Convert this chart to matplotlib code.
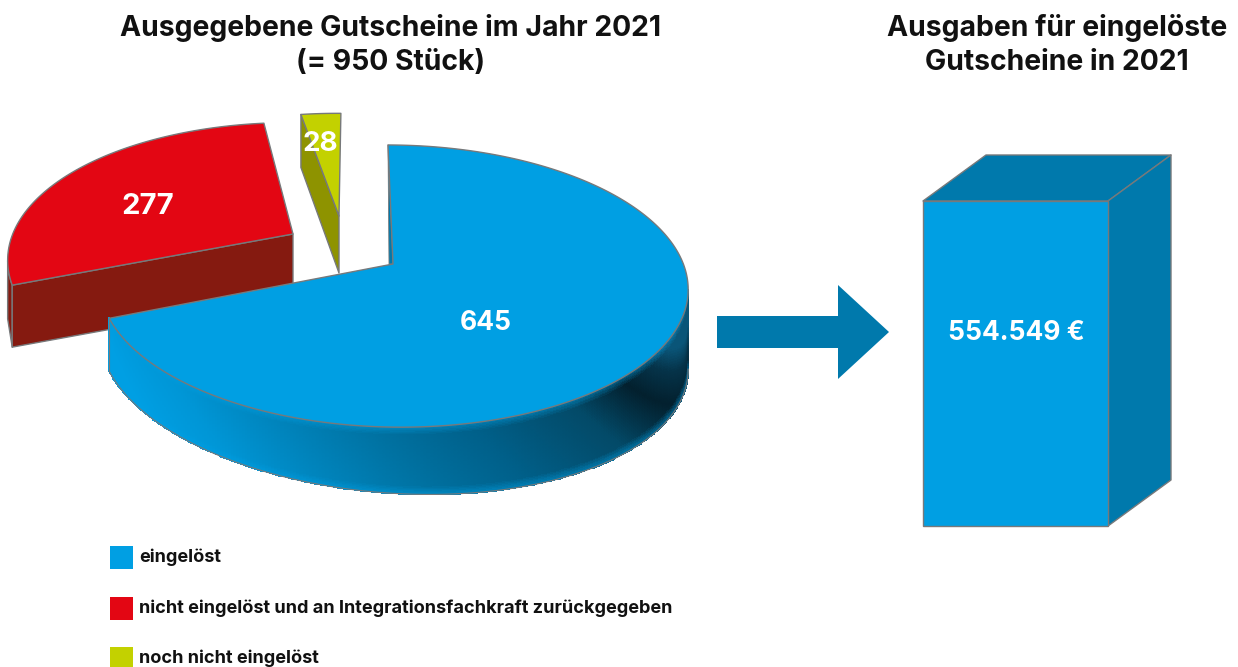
import numpy as np
import matplotlib
matplotlib.use('Agg')
import matplotlib.pyplot as plt
from matplotlib.colors import to_rgb

plt.rcParams['font.family'] = ['Inter', 'DejaVu Sans']

# data
slice_names = ['eingelöst', 'nicht eingelöst und an Integrationsfachkraft zurückgegeben', 'noch nicht eingelöst']
slice_values = [645, 277, 28]
title_left = 'Ausgegebene Gutscheine im Jahr 2021\n(= 950 Stück)'
title_right = 'Ausgaben für eingelöste\nGutscheine in 2021'
spend_value = 554549
spend_label = '554.549 €'

BLUE, BLUE_D = '#009FE3', '#0079AC'
RED, RED_D = '#E30613', '#851A10'
OLIVE, OLIVE_D = '#C3D100', '#8E9300'
EDGE = '#77797B'

fig = plt.figure(figsize=(12.38, 6.67), dpi=100)
ax = fig.add_axes([0, 0, 1, 1])
ax.set_xlim(0, 1238)
ax.set_ylim(667, 0)
ax.axis('off')

# perspective of the pie, angles in degrees
K, M, RX, RY, TILT = 0.156, -0.02, 290.5, 137.6, 0.01


def rim(theta, tip, scale=1.0, k=K):
    t = np.radians(theta)
    w = 1 + k * np.sin(t) + M * np.cos(t)
    dx = RX * np.cos(t) / w * scale
    dy = -RY * np.sin(t) / w * scale
    return tip[0] + dx, tip[1] + dy + TILT * dx


def face(xs, ys, color, z, lw=1.0):
    ax.fill(xs, ys, facecolor=color, edgecolor=EDGE, linewidth=lw, joinstyle='round', zorder=z)


# slice angles follow the values, clockwise from 12 o'clock
sweeps = np.array(slice_values) / sum(slice_values) * 360
blue_a0 = 90.0
blue_a1 = blue_a0 - sweeps[0] - 2.2
red_a0 = 90 - sweeps[0] - 3.5
red_a1 = red_a0 - sweeps[1]
olive_a0 = 90 + sweeps[2] - 0.5
olive_a1 = olive_a0 - sweeps[2]

# red slice, pulled out to the upper left
red_tip = (293, 234)
th = np.linspace(red_a0, red_a1, 120)
rx, ry = rim(th, red_tip, 0.98, k=0.21)
i_left = np.argmin(rx)
RED_DEPTH = 62
face(rx[:i_left + 1].tolist() + [rx[i_left], rx[0]], ry[:i_left + 1].tolist() + [ry[i_left] + RED_DEPTH - 4, ry[0] + RED_DEPTH], RED_D, 1)
face([rx[0], red_tip[0], red_tip[0], rx[0]], [ry[0], red_tip[1], red_tip[1] + RED_DEPTH, ry[0] + RED_DEPTH], RED_D, 1)
face(np.r_[red_tip[0], rx], np.r_[red_tip[1], ry], RED, 2)

# olive slice
olive_tip = (339, 216)
ox, oy = rim(np.linspace(olive_a0, olive_a1, 12), olive_tip, 0.97, k=0.3)
OLIVE_DEPTH = 57
face([ox[0], olive_tip[0], olive_tip[0], ox[0]], [oy[0], olive_tip[1], olive_tip[1] + OLIVE_DEPTH, oy[0] + OLIVE_DEPTH - 4], OLIVE_D, 1)
face(np.r_[olive_tip[0], ox], np.r_[olive_tip[1], oy], OLIVE, 2)

# blue slice, side wall first
blue_tip = (388, 264)
th = np.linspace(blue_a0 + 360, blue_a1 + 360, 400)
bx, by = rim(th, blue_tip)
i_right = np.argmax(bx)
wall_th = np.linspace(th[i_right], th[-1], 260)
wx, wy = rim(wall_th, blue_tip)
t = np.linspace(0, 1, 50)
WX = np.tile(wx, (len(t), 1))
depth = 53 + 27 * (wx - wx.min()) / (wx.max() - wx.min())
WY = wy + np.outer(t, depth)

stops_x = [112, 200, 300, 400, 500, 600, 650, 675, 692]
stops_c = ['#009FE3', '#0096D6', '#0084BC', '#0072A2', '#00608A', '#034A68', '#03202E', '#053349', '#0A5578']
stops_rgb = np.array([to_rgb(c) for c in stops_c])
TT = np.tile(t, (len(wx), 1)).T
shade_pos = WX - 60 * (TT - 0.5)
rgb = np.dstack([np.interp(shade_pos, stops_x, stops_rgb[:, i]) for i in range(3)])
glow = np.clip(1 - np.minimum(TT, 1 - TT) / 0.12, 0, 1)[..., None] * 0.5
rgb = rgb * (1 - glow) + np.array(to_rgb(BLUE)) * glow
ax.pcolormesh(WX, WY, rgb[:-1, :-1], shading='flat', antialiased=False, edgecolors='face', linewidth=0.3, zorder=3, rasterized=True)
ax.plot(WX[-1], WY[-1], color=EDGE, lw=0.8, zorder=4)
ax.plot([wx[-1], wx[-1]], [wy[-1], WY[-1, -1]], color=EDGE, lw=0.8, zorder=4)

# thin cut wall at the start of the slice
face([bx[0], blue_tip[0] + 1, blue_tip[0] + 5], [by[0], blue_tip[1], blue_tip[1]], BLUE_D, 4, 0.6)
face(np.r_[blue_tip[0] + 5, bx], np.r_[blue_tip[1], by], BLUE, 5)

# arrow and box for the money spent
ax.fill([717, 838, 838, 889, 838, 838, 717], [316, 316, 285, 332, 379, 348, 348], color=BLUE_D, lw=0, zorder=3)

BOX_BASE = 526
box_h = spend_value * 325 / 554549
BOX_L, BOX_R, DX, DY = 923, 1108, 63, 46
BOX_T = BOX_BASE - box_h
face([BOX_L, BOX_L + DX, BOX_R + DX, BOX_R], [BOX_T, BOX_T - DY, BOX_T - DY, BOX_T], BLUE_D, 3)
face([BOX_R, BOX_R + DX, BOX_R + DX, BOX_R], [BOX_T, BOX_T - DY, BOX_BASE - DY, BOX_BASE], BLUE_D, 3)
ax.bar((BOX_L + BOX_R) / 2, -box_h, bottom=BOX_BASE, width=BOX_R - BOX_L, color=BLUE, edgecolor=EDGE, linewidth=1, zorder=4)

# value labels
label_pos = [(486, 323), (148, 206), (320, 144)]
label_size = [19, 21, 20]
for val, (lx, ly), fs in zip(slice_values, label_pos, label_size):
    ax.text(lx, ly, str(val), color='white', fontsize=fs, fontweight='bold', ha='center', va='center', zorder=8)
ax.text(1016, 333, spend_label, color='white', fontsize=19, fontweight='bold', ha='center', va='center', zorder=8)

# titles
ax.text(391, 45, title_left, fontsize=20.4, fontweight='bold', ha='center', va='center', color='#111111', linespacing=1.38)
ax.text(1057, 45, title_right, fontsize=20.4, fontweight='bold', ha='center', va='center', color='#111111', linespacing=1.38)

# legend
leg_y = [557, 608, 658]
for name, col, y in zip(slice_names, [BLUE, RED, OLIVE], leg_y):
    ax.bar(121.5, 23, bottom=y - 11.5, width=23, color=col, lw=0, zorder=3)
    ax.text(139, y, name, fontsize=13.05, fontweight='bold', ha='left', va='center', color='#111111')

fig.savefig('out.png', dpi=100)
